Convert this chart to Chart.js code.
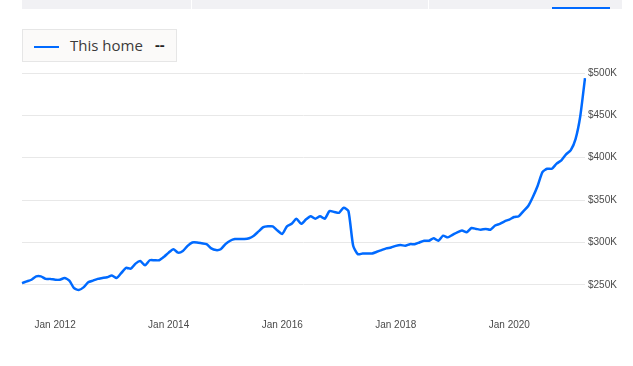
<!DOCTYPE html>
<html>
<head>
<meta charset="utf-8">
<script src="https://cdn.jsdelivr.net/npm/chart.js@4.4.1/dist/chart.umd.min.js"></script>
<style>
  html, body { margin: 0; padding: 0; background: #fff; }
  body { width: 633px; height: 366px; position: relative; overflow: hidden; }
  #tabs { position: absolute; left: 22px; top: 0; width: 600px; height: 9px; background: #f1f1f4; }
  .sep { position: absolute; top: 0; width: 1px; height: 9px; background: #fff; }
  #tabline { position: absolute; left: 552px; top: 7px; width: 58px; height: 2px; background: #006aff; }
  #legend {
    position: absolute; left: 22px; top: 29px; width: 153px; height: 31px;
    border: 1px solid #e6e6e6; background: #fbfaf9;
    font-family: "Open Sans", sans-serif; font-size: 15px; color: #3b3b3b;
  }
  #legend .swatch { position: absolute; left: 11px; top: 16px; width: 25px; height: 2px; background: #006aff; }
  #legend .name { position: absolute; left: 47px; top: 5px; }
  #legend .val { position: absolute; left: 132px; top: 4px; font-weight: bold; color: #222; }
  #chart { position: absolute; left: 0; top: 0; }
</style>
</head>
<body>
<div id="tabs">
  <div class="sep" style="left:169px"></div>
  <div class="sep" style="left:406px"></div>
</div>
<div id="tabline"></div>
<canvas id="chart" width="633" height="366"></canvas>
<div id="legend"><div class="swatch"></div><span class="name">This home</span><span class="val">--</span></div>
<script>
// monthly values in $K, Jun 2011 .. May 2021
const homeValues = [
    252, 254, 256, 260, 260, 257, 257, 256, 256, 258,
    255, 246, 244, 247, 253, 255, 257, 258, 259, 261,
    258, 264, 270, 269, 275, 278, 273, 279, 279, 279,
    283, 288, 292, 288, 290, 296, 300, 300, 299, 298,
    293, 291, 292, 298, 302, 304, 304, 304, 305, 308,
    313, 318, 319, 319, 314, 310, 319, 322, 328, 322,
    327, 331, 328, 331, 328, 337, 336, 335, 341, 337,
    296, 286, 287, 287, 287, 289, 291, 293, 294, 296,
    297, 296, 298, 298, 300, 302, 302, 305, 302, 308,
    306, 309, 312, 314, 312, 317, 316, 315, 316, 315,
    320, 322, 325, 327, 330, 331, 337, 343, 354, 367,
    383, 387, 387, 393, 397, 404, 409, 422, 449, 494
];
const monthNames = ['Jan', 'Feb', 'Mar', 'Apr', 'May', 'Jun', 'Jul', 'Aug', 'Sep', 'Oct', 'Nov', 'Dec'];
const startYear = 2011;
const startMonth = 5;
const xTickLabels = ['Jan 2012', 'Jan 2014', 'Jan 2016', 'Jan 2018', 'Jan 2020'];
const yTicks = [250, 300, 350, 400, 450, 500];

const months = homeValues.map((_, i) => {
    const m = startMonth + i;
    return monthNames[m % 12] + ' ' + (startYear + Math.floor(m / 12));
});

const axisFont = { family: 'Liberation Sans', size: 10 };

new Chart(document.getElementById('chart'), {
    type: 'line',
    data: {
        labels: months,
        datasets: [{
            label: 'This home',
            data: homeValues,
            borderColor: '#006aff',
            borderWidth: 2.5,
            pointRadius: 0,
            tension: 0.2,
            fill: false
        }]
    },
    options: {
        responsive: false,
        animation: false,
        devicePixelRatio: 1,
        layout: { padding: { top: 73, left: 22, right: 0, bottom: 0 } },
        plugins: { legend: { display: false }, tooltip: { enabled: false } },
        scales: {
            x: {
                grid: { display: false, drawTicks: false },
                border: { display: false },
                afterFit: s => { s.height = 60; },
                ticks: {
                    autoSkip: false,
                    maxRotation: 0,
                    padding: 13,
                    color: '#4a4a4a',
                    font: axisFont,
                    callback: function(v) {
                        const l = this.getLabelForValue(v);
                        return xTickLabels.includes(l) ? l : null;
                    }
                }
            },
            y: {
                position: 'right',
                min: 225,
                max: 500,
                grid: { color: '#e8e8e8', drawTicks: false },
                border: { display: false },
                afterFit: s => { s.width = 48; },
                afterBuildTicks: axis => { axis.ticks = yTicks.map(v => ({ value: v })); },
                ticks: {
                    padding: 3,
                    color: '#4a4a4a',
                    font: axisFont,
                    callback: v => '$' + v + 'K'
                }
            }
        }
    }
});
</script>
</body>
</html>
